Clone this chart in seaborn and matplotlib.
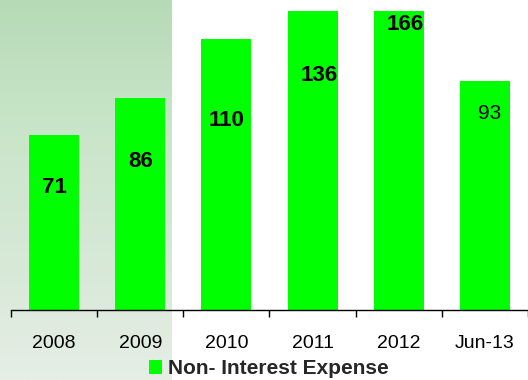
import numpy as np
import matplotlib
matplotlib.use("Agg")
import matplotlib.pyplot as plt
import seaborn as sns
from matplotlib.colors import LinearSegmentedColormap

periods = ["2008", "2009", "2010", "2011", "2012", "Jun-13"]
expense = [71, 86, 110, 136, 166, 93]
series_name = "Non- Interest Expense"

sns.set_theme(style="white")
plt.rcParams["font.family"] = ["Liberation Sans", "DejaVu Sans"]

W, H = 528, 380
fig = plt.figure(figsize=(W / 100, H / 100), dpi=100)

# soft green gradient panel on the left side of the slide
bg = fig.add_axes([0, 0, 172 / W, 1], zorder=0)
grad = LinearSegmentedColormap.from_list("panel", ["#b6dab6", "#c9e5c9", "#d6e8d6", "#e6eee6"])
bg.imshow(np.linspace(0, 1, 256).reshape(-1, 1), aspect="auto", cmap=grad,
          extent=[0, 1, 0, 1], origin="upper")
bg.set_axis_off()

ax = fig.add_axes([11 / W, 70 / H, (W - 11) / W, (310 - 11) / H], zorder=1)
ax.set_facecolor("none")

sns.barplot(x=periods, y=expense, color="#00ff00", saturation=1, width=0.58,
            linewidth=0, edgecolor="none",
            label=series_name, ax=ax, zorder=2)

ax.set_ylim(0, 121.5)
ax.set_xlim(-0.5, len(periods) - 0.5)

# value labels inside the bars
for i, v in enumerate(expense):
    if periods[i] == "Jun-13":
        ax.text(i + 0.05, v * 0.86, str(v), ha="center", va="center",
                fontsize=15, color="black", zorder=3)
    else:
        ax.text(i + (0.08 if v > 121 else 0), min(v * 0.7, 118), str(v), ha="center", va="center",
                fontsize=16, fontweight="bold", color="black", zorder=3)

for side in ["left", "right", "top"]:
    ax.spines[side].set_visible(False)
ax.spines["bottom"].set_color("black")
ax.spines["bottom"].set_linewidth(1.0)

ax.set_yticks([])
ax.set_ylabel("")
ax.set_xlabel("")
ax.set_xticks(range(len(periods)))
ax.set_xticklabels(periods, fontsize=14, color="black")
ax.tick_params(axis="x", which="major", length=0, pad=18)
ax.set_xticks(np.arange(-0.5, len(periods), 1.0), minor=True)
ax.tick_params(axis="x", which="minor", length=5, width=1, color="black", direction="out", bottom=True)

leg = ax.legend(loc="center", bbox_to_anchor=(0.5 - 11 / W / 2 + 0.01, -0.197),
                bbox_transform=ax.transAxes, frameon=False,
                handlelength=0.62, handleheight=0.62, handletextpad=0.3,
                prop={"weight": "bold", "size": 15})

fig.savefig("out.png", dpi=100)
